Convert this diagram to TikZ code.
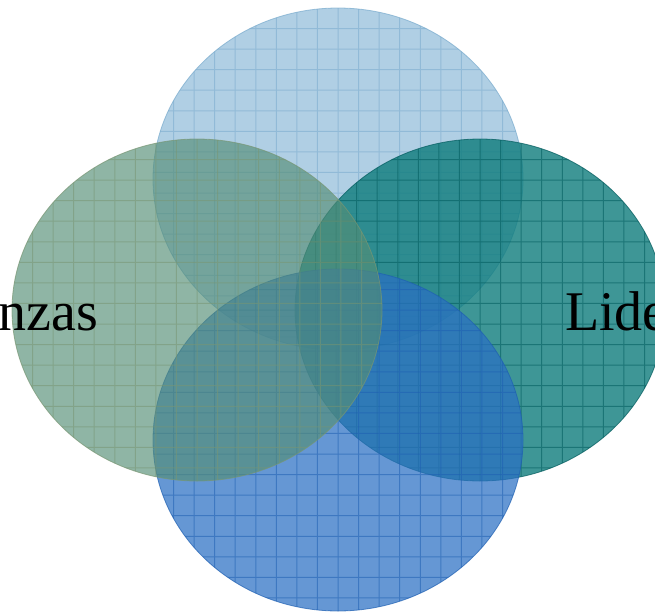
\documentclass[tikz,border=0pt]{standalone}
\usepackage{fontspec}
\setmainfont{Liberation Serif}
\usetikzlibrary{shapes.geometric}
\definecolor{ctop}{RGB}{150,192,220}
\definecolor{gtop}{RGB}{120,170,205}
\definecolor{cleft}{RGB}{84,142,118}
\definecolor{gleft}{RGB}{120,150,115}
\definecolor{cright}{RGB}{14,124,124}
\definecolor{gright}{RGB}{0,90,92}
\definecolor{cbot}{RGB}{42,112,196}
\definecolor{gbot}{RGB}{30,95,178}
\tikzset{
  venn/.style n args={3}{ellipse, inner sep=0pt, minimum width=370pt, minimum height=342pt,
    fill=#1, fill opacity=#3, draw=#2, draw opacity=0.7, line width=0.8pt},
  venngrid/.style={line width=1pt},
  vennlbl/.style={font=\fontsize{56}{60}\selectfont, text=black, inner sep=0pt}
}
\newcommand\myvenn[6]{%
  \node[venn={#4}{#5}{#6}] (#1) at (#2,#3) {};
  \begin{scope}[transparency group, opacity=0.55]
    \clip (#2,#3) ellipse [x radius=185, y radius=171];
    \foreach \i in {1,...,17} {
      \draw[venngrid, #5] ({#2-185+\i*20.56},{#3-171}) -- ({#2-185+\i*20.56},{#3+171});
    }
    \foreach \j in {1,...,16} {
      \draw[venngrid, #5] ({#2-185},{#3-171+\j*20.56}) -- ({#2+185},{#3-171+\j*20.56});
    }
  \end{scope}}
\begin{document}
\begin{tikzpicture}[x=1pt,y=-1pt]
\useasboundingbox (0,0) rectangle (655,613);
\fill[white] (0,0) rectangle (655,613);
\myvenn{top}{338}{179}{ctop}{gtop}{0.75}
\myvenn{right}{480}{310}{cright}{gright}{0.8}
\myvenn{bottom}{338}{440}{cbot}{gbot}{0.72}
\myvenn{left}{197}{310}{cleft}{gleft}{0.65}
\node[vennlbl, anchor=base east] (lleft) at (98,330) {nzas};
\node[vennlbl, anchor=base west] (lright) at (565,330) {Lide};
\end{tikzpicture}
\end{document}
